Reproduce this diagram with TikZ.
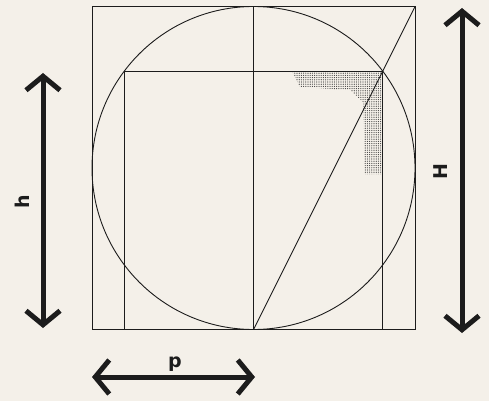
\documentclass[tikz,border=0pt]{standalone}
\usepackage{fontspec}
\setsansfont{DejaVu Sans}
\usetikzlibrary{arrows.meta,patterns}
\definecolor{paper}{RGB}{244,240,233}
\definecolor{ink}{RGB}{28,28,28}
\pgfdeclarepatternformonly{stipple}{\pgfqpoint{-1pt}{-1pt}}{\pgfqpoint{1pt}{1pt}}{\pgfqpoint{2.2pt}{2.2pt}}{%
  \pgfpathcircle{\pgfqpoint{0pt}{0pt}}{0.6pt}\pgfusepath{fill}}

\begin{document}
\begin{tikzpicture}[
  x=1pt, y=-1pt,
  font=\sffamily\bfseries\fontsize{19}{19}\selectfont,
  thinline/.style={draw=ink, line width=0.9pt},
  dimarrow/.style={{Straight Barb[length=14pt,width=34pt]}-{Straight Barb[length=14pt,width=34pt]}, line width=5pt, draw=ink},
  lbl/.style={text=ink, inner sep=0pt}
]
\fill[paper] (0,0) rectangle (489,401);
\useasboundingbox (0,0) rectangle (489,401);

% corners of the square and the inner box
\coordinate (c) at (253.5,168);
\coordinate (bl) at (92,329.5);
\coordinate (tr) at (415,6.5);
\coordinate (bm) at (253.5,329.5);
\coordinate (tm) at (253.5,6.5);
\coordinate (ibl) at (124.3,329.5);
\coordinate (itr) at (382.7,71.1);

% stippled corner
\fill[pattern=stipple, pattern color=ink!85]
  (292,71.1) -- (itr) -- (382.7,174) -- (365,174) -- (363,102)
  -- (350,90) -- (300,87) -- cycle;

\draw[thinline] (bl) rectangle (tr);
\draw[thinline] (c) circle (161.5);
\draw[thinline] (ibl) rectangle (itr);
\draw[thinline] (tm) -- (bm);
\draw[thinline] (bm) -- (tr);

% dimensions
\coordinate (h1) at (43,73);
\coordinate (h2) at (43,328);
\coordinate (H1) at (462,8);
\coordinate (H2) at (462,333);
\coordinate (p1) at (92,377);
\coordinate (p2) at (255,377);
\draw[dimarrow] (h1) -- (h2);
\draw[dimarrow] (H1) -- (H2);
\draw[dimarrow] (p1) -- (p2);
\node[lbl, rotate=90] (hlabel) at (22,202) {h};
\node[lbl, rotate=90] (Hlabel) at (441,172) {H};
\node[lbl] (plabel) at (175,364) {p};
\end{tikzpicture}
\end{document}
